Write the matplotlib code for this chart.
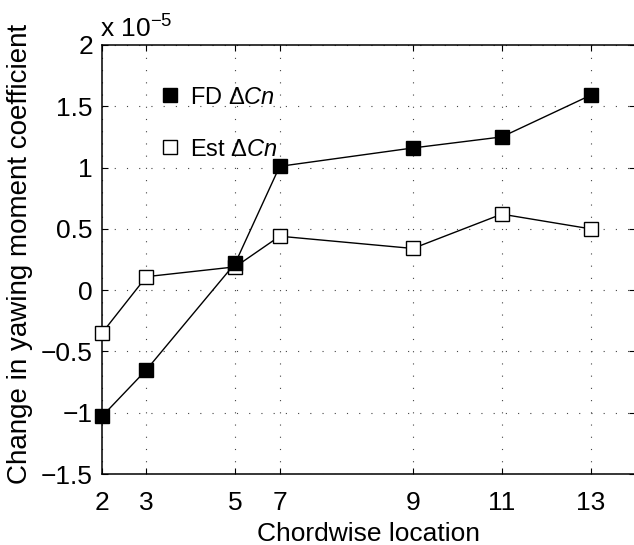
import matplotlib
matplotlib.use("Agg")
import matplotlib.pyplot as plt

# Data (values in units of 1e-5)
x_pos = [2, 3, 5, 6, 9, 11, 13]
x_labels = ["2", "3", "5", "7", "9", "11", "13"]
fd_dcn = [-1.03, -0.65, 0.22, 1.01, 1.16, 1.25, 1.59]
est_dcn = [-0.35, 0.11, 0.19, 0.44, 0.34, 0.62, 0.50]
y_ticks = [-1.5, -1, -0.5, 0, 0.5, 1, 1.5, 2]
y_tick_labels = ["\u22121.5", "\u22121", "\u22120.5", "0", "0.5", "1", "1.5", "2"]

plt.rcParams["font.family"] = ["Liberation Sans", "DejaVu Sans"]
plt.rcParams["mathtext.fontset"] = "custom"
plt.rcParams["mathtext.rm"] = "Liberation Sans"
plt.rcParams["mathtext.it"] = "Liberation Sans:italic"

FS = 19

fig = plt.figure(figsize=(6.34, 5.45), dpi=100)
ax = fig.add_axes([102 / 634, 71 / 545, 533 / 634, 429 / 545])

h_est, = ax.plot(x_pos, est_dcn, color="black", lw=1.0, marker="s", ms=10.5,
                 mfc="white", mec="black", mew=1.0, label=r"Est $\Delta\mathit{Cn}$",
                 clip_on=False, zorder=3)
h_fd, = ax.plot(x_pos, fd_dcn, color="black", lw=1.0, marker="s", ms=10.5,
                mfc="black", mec="black", mew=1.0, label=r"FD $\Delta\mathit{Cn}$",
                clip_on=False, zorder=4)

ax.set_xlim(2, 14)
ax.set_ylim(-1.5, 2)
ax.set_xticks(x_pos)
ax.set_xticklabels(x_labels)
ax.set_yticks(y_ticks)
ax.set_yticklabels(y_tick_labels)

ax.tick_params(direction="in", length=4, width=0.8, top=True, right=True,
               labelsize=FS, colors="black")
ax.tick_params(axis="x", pad=12)
ax.tick_params(axis="y", pad=6.5)
ax.grid(True, color="#444444", linestyle=(0, (1, 10)), linewidth=0.8)
for s in ax.spines.values():
    s.set_linewidth(1.1)

ax.set_xlabel("Chordwise location", fontsize=FS, labelpad=5)
ax.set_ylabel("Change in yawing moment coefficient", fontsize=20)
ax.yaxis.set_label_coords(-0.129, 0.513)

fig.text(100 / 634, 1 - 38 / 545, r"x 10$^{\mathregular{-5}}$", fontsize=FS,
         ha="left", va="baseline")

leg = ax.legend([h_fd, h_est], [h_fd.get_label(), h_est.get_label()],
                loc="upper left", bbox_to_anchor=(0.105, 0.903), frameon=False,
                fontsize=17, handlelength=1.0, handletextpad=0.36,
                labelspacing=1.27, borderaxespad=0, borderpad=0)
for h in leg.legend_handles:
    h.set_linestyle("none")

fig.savefig("out.png", dpi=100)
